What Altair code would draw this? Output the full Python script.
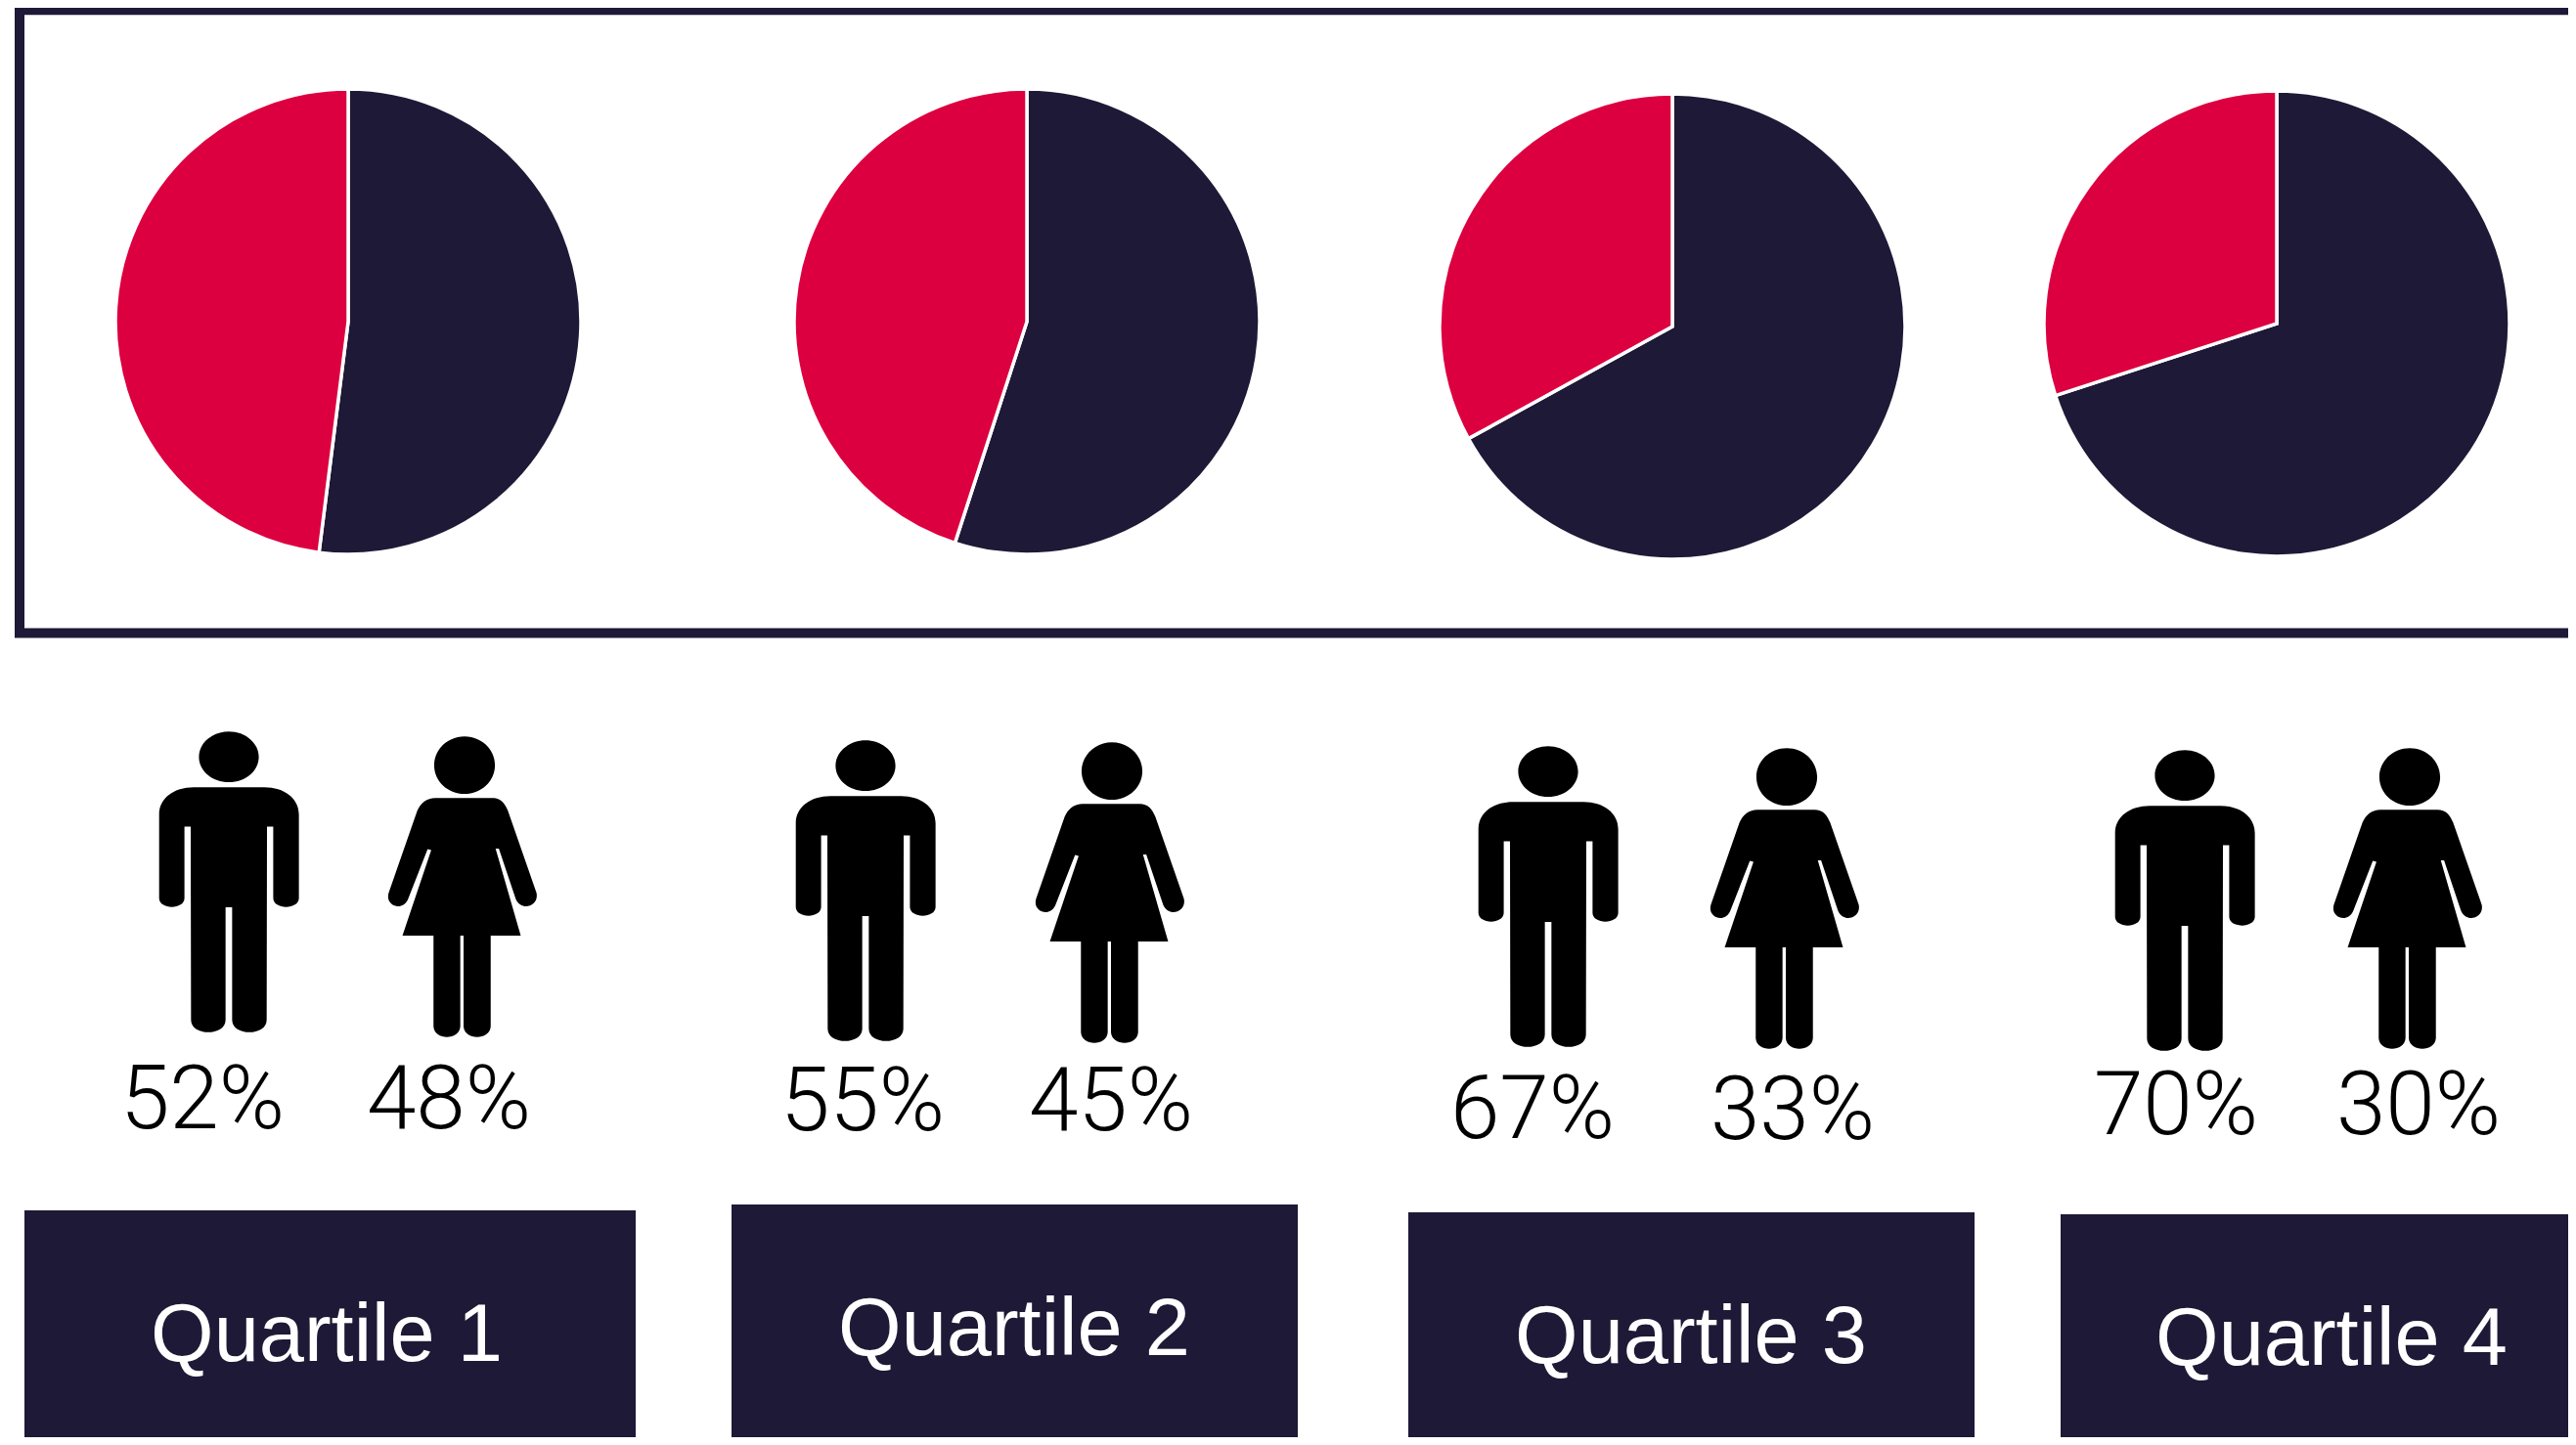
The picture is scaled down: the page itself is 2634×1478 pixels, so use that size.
import altair as alt
import pandas as pd

# ---- values ----
QUARTILES = ["Quartile 1", "Quartile 2", "Quartile 3", "Quartile 4"]
MEN = [52, 55, 67, 70]
WOMEN = [48, 45, 33, 30]

# ---- colours ----
NAVY = "#1E1936"
CRIMSON = "#DC0040"

# ---- layout (page pixels; the chart starts 8px in) ----
M = 8
PIE_C = [(356, 329), (1050, 329), (1710, 334), (2328, 331)]
PIE_R = 236
MALE_C = [(234, 902), (885, 911), (1583, 917), (2234, 921)]
FEMALE_C = [(473, 907), (1135, 913), (1825, 919), (2462, 919)]
ICON_SIZE = 308 ** 2
MALE_LBL = [(207, 1127), (882, 1129), (1567, 1137), (2225, 1133)]
FEMALE_LBL = [(459, 1127), (1136, 1129), (1833, 1138), (2473, 1133)]
BOX = [(25, 650, 1238), (748, 1327, 1232), (1440, 2019, 1240), (2107, 2700, 1242)]
BOX_TXT = [(334, 1367), (1037, 1361), (1729, 1369), (2384, 1371)]


def ellipse(cx, cy, rx, ry):
    k = 0.5523
    return [("M", cx - rx, cy),
            ("C", cx - rx, cy - k * ry, cx - k * rx, cy - ry, cx, cy - ry),
            ("C", cx + k * rx, cy - ry, cx + rx, cy - k * ry, cx + rx, cy),
            ("C", cx + rx, cy + k * ry, cx + k * rx, cy + ry, cx, cy + ry),
            ("C", cx - k * rx, cy + ry, cx - rx, cy + k * ry, cx - rx, cy),
            ("Z",)]


def path(cmds, cx, cy, half):
    out = []
    for c in cmds:
        pts = c[1:]
        nums = []
        for i, v in enumerate(pts):
            nums.append(round((v - (cx if i % 2 == 0 else cy)) / half, 4))
        out.append(c[0] + " ".join(str(n) for n in nums))
    return "".join(out)


MALE = ellipse(312, 160, 91, 77) + [
    ("M", 205, 252), ("L", 420, 252), ("C", 480, 252, 525, 285, 525, 335),
    ("L", 525, 590), ("C", 525, 625, 447, 625, 447, 590), ("L", 447, 372),
    ("L", 428, 372), ("L", 427, 960), ("C", 427, 1010, 322, 1010, 322, 960),
    ("L", 322, 617), ("L", 302, 617), ("L", 302, 960),
    ("C", 302, 1010, 197, 1010, 197, 960), ("L", 196, 372), ("L", 177, 372),
    ("L", 177, 590), ("C", 177, 625, 100, 625, 100, 590), ("L", 100, 335),
    ("C", 100, 285, 145, 252, 205, 252), ("Z",)]

FEMALE = ellipse(1035, 185, 93, 88) + [
    ("M", 945, 285), ("L", 1120, 285), ("C", 1145, 285, 1158, 300, 1168, 325),
    ("L", 1255, 575), ("C", 1265, 615, 1210, 635, 1192, 595),
    ("L", 1140, 440), ("L", 1130, 440), ("L", 1207, 707), ("L", 1115, 707),
    ("L", 1115, 985), ("C", 1112, 1028, 1035, 1028, 1032, 985),
    ("L", 1032, 707), ("L", 1022, 707), ("L", 1022, 985),
    ("C", 1019, 1028, 943, 1028, 940, 985), ("L", 940, 707), ("L", 845, 707),
    ("L", 933, 445), ("L", 922, 442), ("L", 862, 595),
    ("C", 845, 635, 790, 615, 803, 575), ("L", 890, 325),
    ("C", 900, 300, 920, 285, 945, 285), ("Z",)]

MALE_PATH = path(MALE, 312, 540, 458)
FEMALE_PATH = path(FEMALE, 1029, 557, 461)

rows = []
for q, m, w in zip(QUARTILES, MEN, WOMEN):
    rows.append({"quartile": q, "sex": "Men", "value": m, "rank": 0, "label": f"{m}%"})
    rows.append({"quartile": q, "sex": "Women", "value": w, "rank": 1, "label": f"{w}%"})
base = alt.Chart(pd.DataFrame(rows))

layers = []

# frame around the pies
layers.append(
    alt.Chart(pd.DataFrame({"a": [0]})).mark_rect(
        fill=None, stroke=NAVY, strokeWidth=10, clip=True
    ).encode(
        x=alt.value(20 - M), x2=alt.value(2720), y=alt.value(10.3 - M), y2=alt.value(647.5 - M)
    )
)

for i, q in enumerate(QUARTILES):
    one = base.transform_filter(alt.datum.quartile == q)
    cx, cy = PIE_C[i]
    layers.append(
        one.mark_arc(outerRadius=PIE_R + 2, stroke="white", strokeWidth=3.5).encode(
            theta=alt.Theta("value:Q", stack=True,
                            scale=alt.Scale(domain=[0, 100], range=[0, 6.283185307])),
            order=alt.Order("rank:Q"),
            color=alt.Color("sex:N", legend=None,
                            scale=alt.Scale(domain=["Men", "Women"], range=[NAVY, CRIMSON])),
            x=alt.value(cx - M),
            y=alt.value(cy - M),
        )
    )
    for sex, shape, centres, lbls in (
        ("Men", MALE_PATH, MALE_C, MALE_LBL),
        ("Women", FEMALE_PATH, FEMALE_C, FEMALE_LBL),
    ):
        d = one.transform_filter(alt.datum.sex == sex)
        layers.append(
            d.mark_point(shape=shape, filled=True, fill="black", stroke=None, opacity=1,
                         size=ICON_SIZE).encode(
                x=alt.value(centres[i][0] - M), y=alt.value(centres[i][1] - M)
            )
        )
        layers.append(
            d.mark_text(font="Roboto", fontWeight=300, fontSize=91, color="black",
                        align="center", baseline="middle").encode(
                x=alt.value(lbls[i][0] - M), y=alt.value(lbls[i][1] - M),
                text="label:N"
            )
        )
    x0, x1, top = BOX[i]
    layers.append(
        alt.Chart(pd.DataFrame({"a": [0]})).mark_rect(fill=NAVY, clip=True).encode(
            x=alt.value(x0 - M), x2=alt.value(x1 - M), y=alt.value(top - M), y2=alt.value(1500)
        )
    )
    layers.append(
        one.transform_filter(alt.datum.sex == "Men").mark_text(
            font="Liberation Sans", fontSize=83, color="white",
            align="center", baseline="middle").encode(
            x=alt.value(BOX_TXT[i][0] - M), y=alt.value(BOX_TXT[i][1] - M),
            text="quartile:N"
        )
    )

chart = alt.layer(*layers).properties(
    width=2618, height=1462, padding=0, background="white",
    autosize=alt.AutoSizeParams(type="none"),
).configure_view(stroke=None)

chart.save("out.html", embed_options={"renderer": "svg", "actions": False})
